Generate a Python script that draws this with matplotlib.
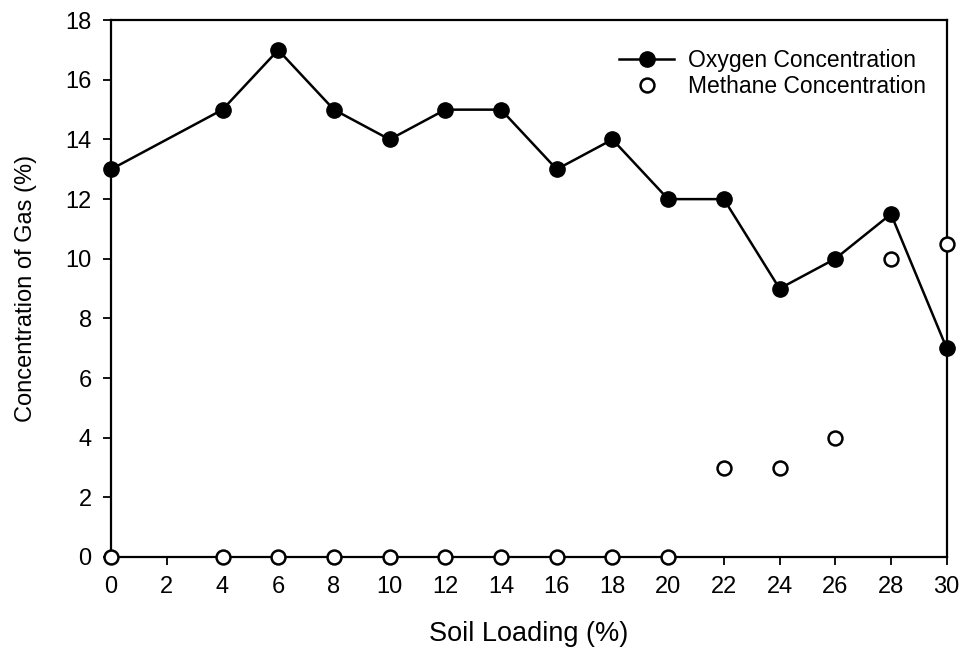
import matplotlib
matplotlib.use('Agg')
import matplotlib.pyplot as plt

plt.rcParams['font.family'] = ['Liberation Sans', 'DejaVu Sans']

# soil loading (%) and gas readings (%)
soil_loading = [0, 4, 6, 8, 10, 12, 14, 16, 18, 20, 22, 24, 26, 28, 30]
oxygen = [13, 15, 17, 15, 14, 15, 15, 13, 14, 12, 12, 9, 10, 11.5, 7]
methane = [0, 0, 0, 0, 0, 0, 0, 0, 0, 0, 3, 3, 4, 10, 10.5]
x_ticks = list(range(0, 31, 2))
y_ticks = list(range(0, 19, 2))

fig = plt.figure(figsize=(9.66, 6.51), dpi=100)
ax = fig.add_axes([0.115, 0.1444, 0.865, 0.8246])

ax.plot(soil_loading, oxygen, '-o', color='black', lw=1.8, ms=11,
        markerfacecolor='black', label='Oxygen Concentration', clip_on=False, zorder=3)
ax.plot(soil_loading, methane, 'o', color='black', ms=10, mew=1.8,
        markerfacecolor='white', label='Methane Concentration', clip_on=False, zorder=4)

ax.set_xlim(0, 30)
ax.set_ylim(0, 18)
ax.set_xticks(x_ticks)
ax.set_yticks(y_ticks)
for sp in ax.spines.values():
    sp.set_linewidth(1.6)
ax.tick_params(direction='out', length=6, width=1.3, labelsize=17, pad=8)

ax.set_xlabel('Soil Loading (%)', fontsize=19.5, labelpad=16)
ax.set_ylabel('Concentration of Gas (%)', fontsize=17, labelpad=20)

ax.legend(loc='upper right', frameon=False, fontsize=16.5, handlelength=2.4,
          bbox_to_anchor=(1.0, 0.985), labelspacing=0.15, handletextpad=0.6)

plt.savefig('out.png', dpi=100)
